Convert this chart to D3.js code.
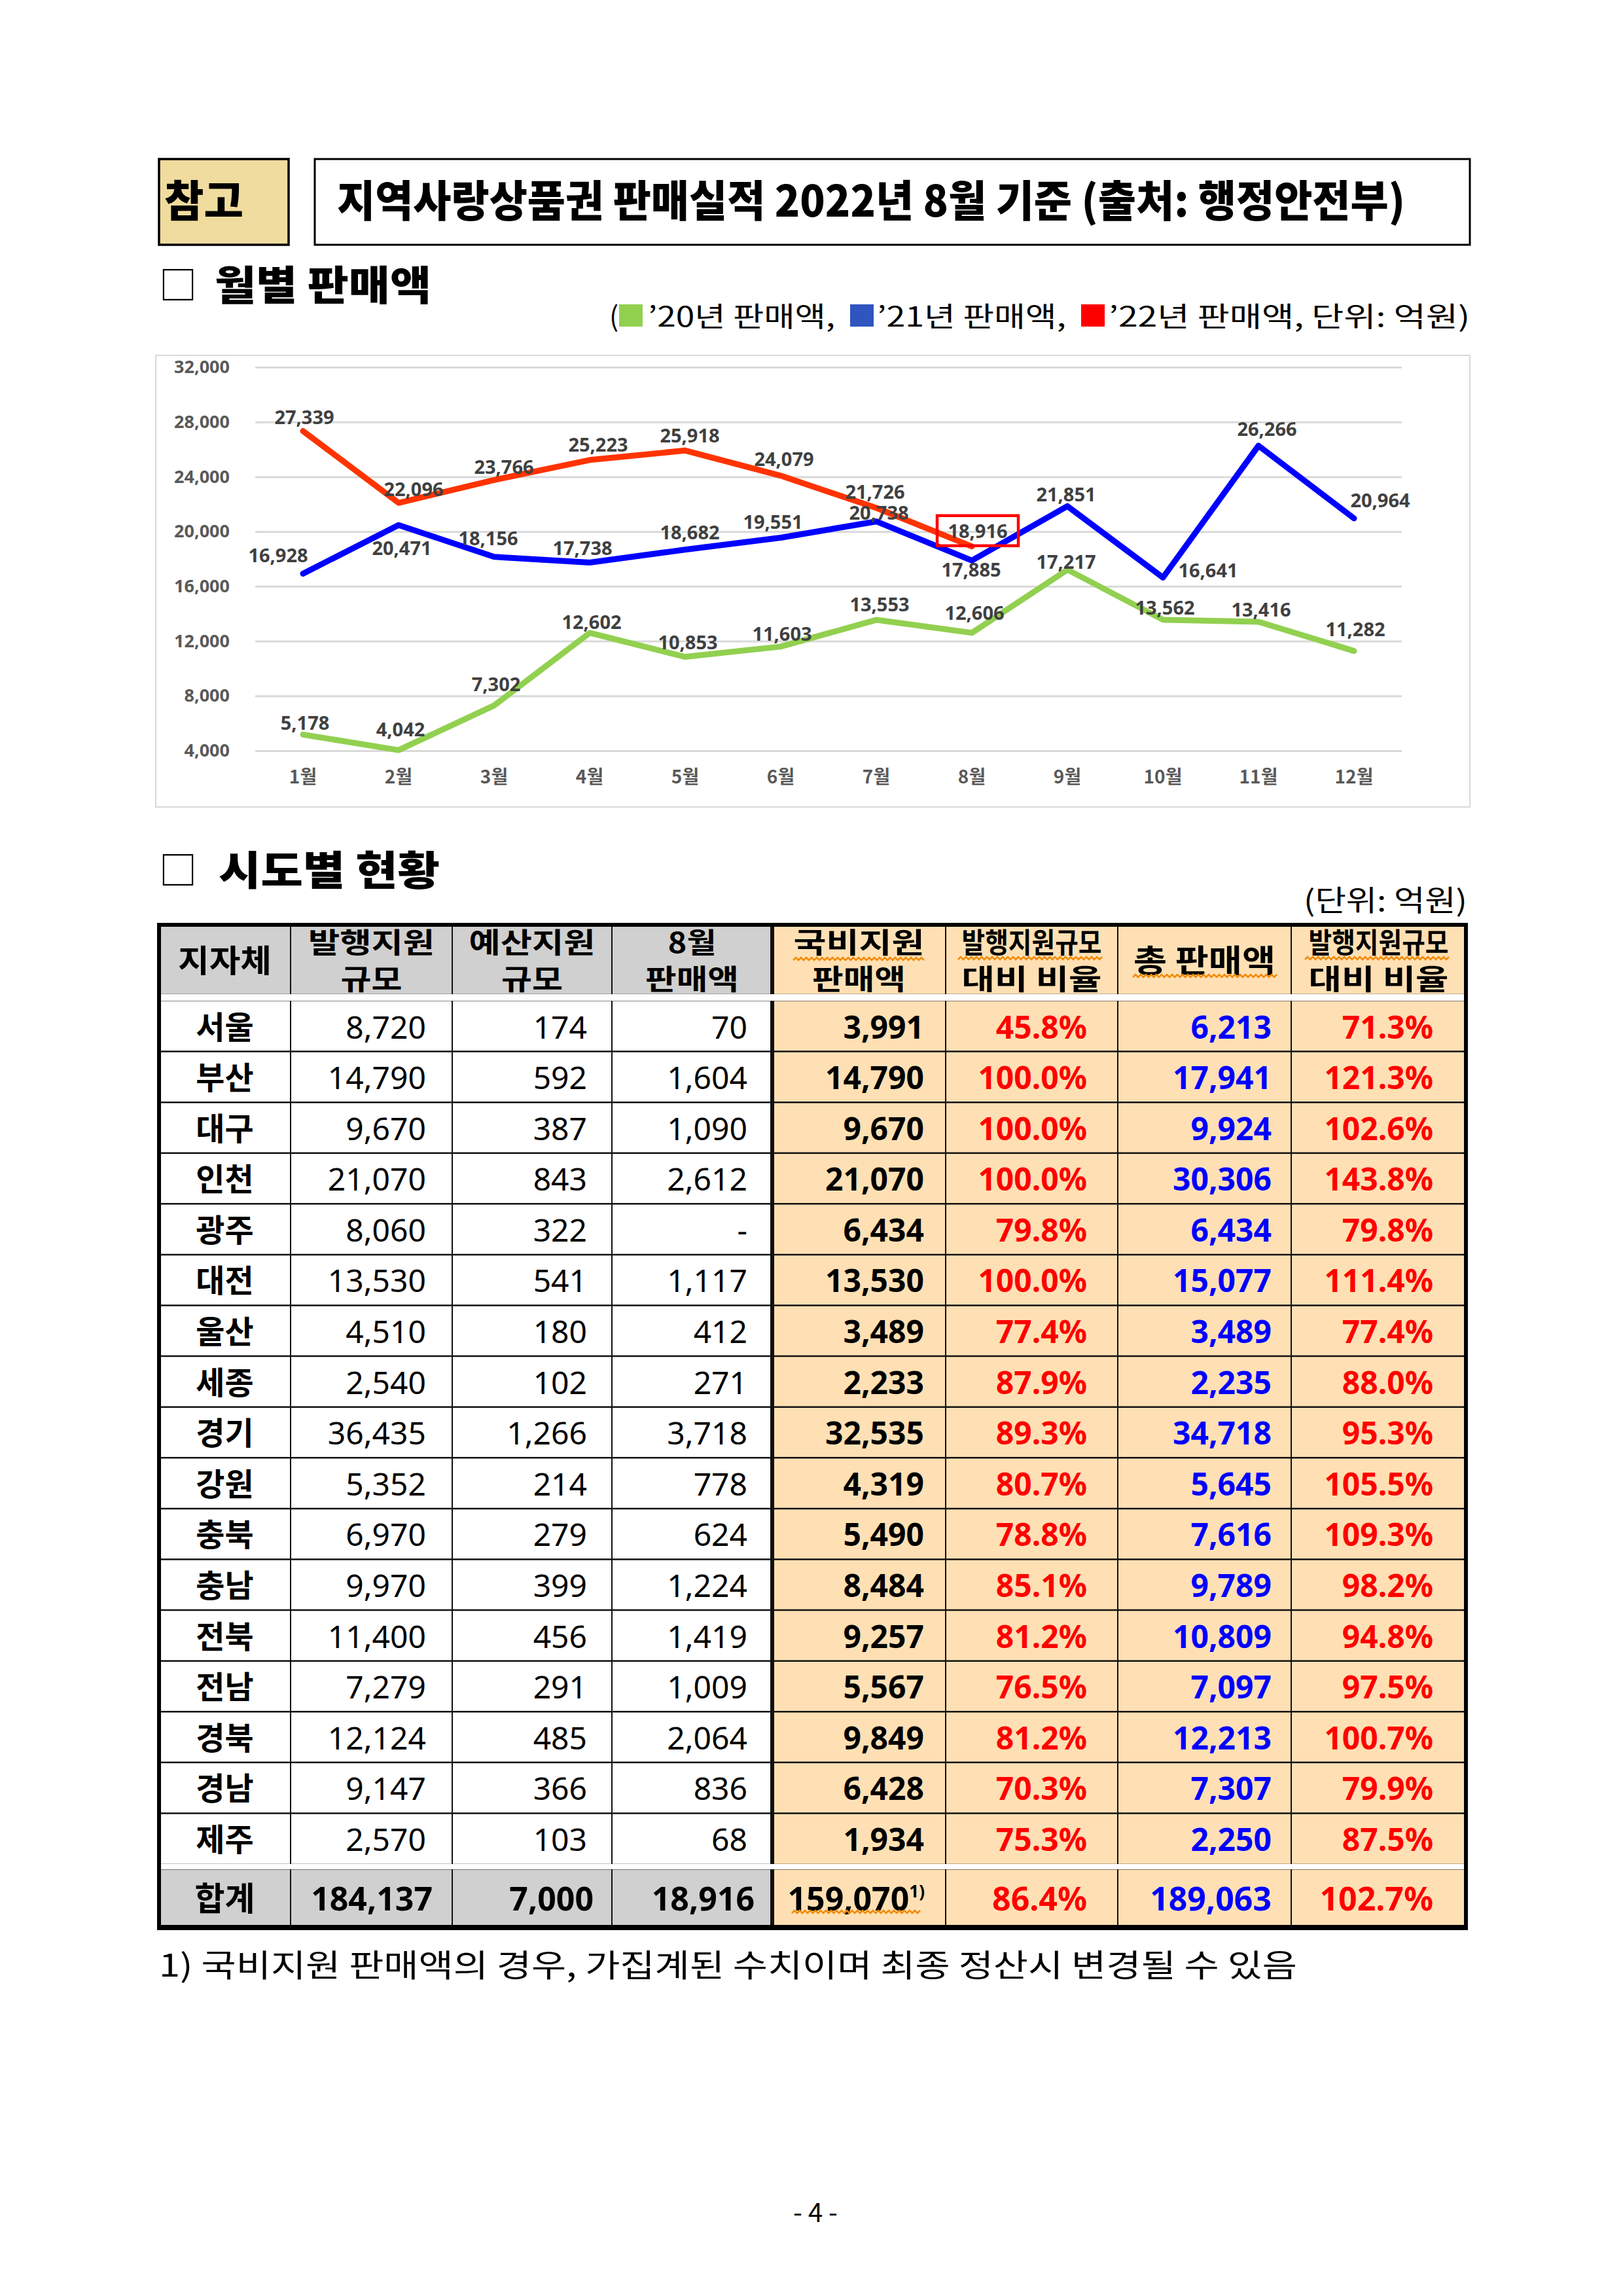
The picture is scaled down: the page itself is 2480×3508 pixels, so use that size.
<!DOCTYPE html>
<html><head><meta charset="utf-8">
<script src="https://cdn.jsdelivr.net/npm/d3@7"></script>
<style>body{margin:0;background:#fff}</style>
</head><body><svg id="page" width="2480" height="3508" xmlns="http://www.w3.org/2000/svg"></svg>
<script>
// ---------------- DATA ----------------
const months = ["1월","2월","3월","4월","5월","6월","7월","8월","9월","10월","11월","12월"];
const sales2020 = [5178,4042,7302,12602,10853,11603,13553,12606,17217,13562,13416,11282];
const sales2021 = [16928,20471,18156,17738,18682,19551,20738,17885,21851,16641,26266,20964];
const sales2022 = [27339,22096,23766,25223,25918,24079,21726,18916];
const yTicks = [4000,8000,12000,16000,20000,24000,28000,32000];
const seriesNames = ["’20년 판매액,","’21년 판매액,","’22년 판매액, 단위: 억원)"];

const regions = ["서울","부산","대구","인천","광주","대전","울산","세종","경기","강원","충북","충남","전북","전남","경북","경남","제주"];
const issueScale = [8720,14790,9670,21070,8060,13530,4510,2540,36435,5352,6970,9970,11400,7279,12124,9147,2570];
const budgetScale = [174,592,387,843,322,541,180,102,1266,214,279,399,456,291,485,366,103];
const augSales = [70,1604,1090,2612,null,1117,412,271,3718,778,624,1224,1419,1009,2064,836,68];
const nationalSales = [3991,14790,9670,21070,6434,13530,3489,2233,32535,4319,5490,8484,9257,5567,9849,6428,1934];
const nationalRatio = [45.8,100.0,100.0,100.0,79.8,100.0,77.4,87.9,89.3,80.7,78.8,85.1,81.2,76.5,81.2,70.3,75.3];
const totalSales = [6213,17941,9924,30306,6434,15077,3489,2235,34718,5645,7616,9789,10809,7097,12213,7307,2250];
const totalRatio = [71.3,121.3,102.6,143.8,79.8,111.4,77.4,88.0,95.3,105.5,109.3,98.2,94.8,97.5,100.7,79.9,87.5];
const totalLabel = "합계";
const totals = [184137,7000,18916,159070,86.4,189063,102.7];
const headers = [["지자체"],["발행지원","규모"],["예산지원","규모"],["8월","판매액"],["국비지원","판매액"],["발행지원규모","대비 비율"],["총 판매액"],["발행지원규모","대비 비율"]];

// label placement offsets (label centre relative to point), pixels
const off2020 = [[3,-18],[3,-32],[3,-33],[3,-17],[4,-22],[2,-20],[5,-24],[4,-31],[-2,-12],[3,-19],[4,-19],[2,-33]];
const off2021 = [[-38,-28],[5,35],[-9,-28],[-11,-22],[7,-26],[-12,-24],[4,-13],[-1,14],[-2,-18],[69,-11],[13,-26],[40,-28]];
const off2022 = [[2,-21],[23,-21],[15,-20],[13,-24],[7,-23],[5,-26],[-2,-25],[9,-24]];

// ---------------- HELPERS ----------------
const svg = d3.select("#page");
const KR = "'Noto Sans CJK KR','Noto Sans',sans-serif";
const LAT = "'Noto Sans','Noto Sans CJK KR',sans-serif";
const fmt = d3.format(",");
const pct = d => d3.format(".1f")(d) + "%";
function txt(g, x, cy, s, o) {
  o = o || {};
  const fs = o.fs || 40;
  const t = g.append("text").attr("x", x).attr("y", cy + 0.37 * fs)
    .attr("font-family", o.family || KR).attr("font-size", fs)
    .attr("font-weight", o.fw || 400).attr("fill", o.fill || "#000")
    .attr("text-anchor", o.anchor || "start").text(s);
  if (o.len) t.attr("textLength", o.len).attr("lengthAdjust", "spacingAndGlyphs");
  return t;
}
function squiggle(g, x0, x1, y) {
  let d = "M" + x0 + "," + (y + 2);
  for (let x = x0, k = 0; x < x1; x += 4, k++) d += "L" + (x + 4) + "," + (y + (k % 2 ? 2 : -2));
  g.append("path").attr("d", d).attr("fill", "none").attr("stroke", "#F28A00").attr("stroke-width", 2.5);
}

// ---------------- PAGE HEADER ----------------
const head = svg.append("g");
head.append("rect").attr("x", 243).attr("y", 243).attr("width", 198).attr("height", 131)
  .attr("fill", "#F0DC9E").attr("stroke", "#000").attr("stroke-width", 3.5);
head.append("rect").attr("x", 481).attr("y", 243).attr("width", 1765).attr("height", 131)
  .attr("fill", "#fff").attr("stroke", "#000").attr("stroke-width", 3);
txt(head, 251, 307, "참고", {fs: 66, fw: 900, len: 121});
txt(head, 515, 307, "지역사랑상품권 판매실적 2022년 8월 기준 (출처: 행정안전부)", {fs: 66, fw: 900, len: 1632});

txt(head, 243, 436, "□", {fs: 58, fw: 400});
txt(head, 328, 436, "월별 판매액", {fs: 62, fw: 900, len: 331});

// legend
const legColors = ["#92D050", "#2F55BE", "#FF0000"];
const legRectX = [946, 1299, 1652];
const legTextX = [990, 1340, 1694];
const legTextLen = [286, 289, 552];
txt(head, 931, 483, "(", {fs: 42});
seriesNames.forEach((s, i) => {
  head.append("rect").attr("x", legRectX[i]).attr("y", 465).attr("width", 36).attr("height", 34).attr("fill", legColors[i]);
  txt(head, legTextX[i], 483, s, {fs: 42, len: legTextLen[i]});
});

// ---------------- CHART ----------------
const chart = svg.append("g");
chart.append("rect").attr("x", 238).attr("y", 543).attr("width", 2008).attr("height", 690)
  .attr("fill", "#fff").attr("stroke", "#D9D9D9").attr("stroke-width", 2);

const x = d3.scaleBand().domain(months).range([390, 2142]);
const cx = m => x(m) + x.bandwidth() / 2;
const y = d3.scaleLinear().domain([4000, 32000]).range([1147, 561]);

const yAxis = chart.append("g").attr("transform", "translate(390,0)")
  .call(d3.axisLeft(y).tickValues(yTicks).tickFormat(fmt).tickSize(-(2142 - 390)).tickPadding(39));
yAxis.select(".domain").remove();
yAxis.selectAll(".tick line").attr("stroke", "#D9D9D9").attr("stroke-width", 3);
yAxis.selectAll(".tick text").attr("font-family", LAT).attr("font-size", 27).attr("font-weight", 700).attr("fill", "#595959");

const xAxis = chart.append("g").attr("transform", "translate(0,1147)")
  .call(d3.axisBottom(x).tickSize(0));
xAxis.select(".domain").remove();
xAxis.selectAll(".tick text").attr("font-family", KR).attr("font-size", 28).attr("font-weight", 700)
  .attr("fill", "#595959").attr("dy", null).attr("y", 40 + 0.37 * 28);

const series = [
  {vals: sales2020, color: "#92D050", off: off2020},
  {vals: sales2021, color: "#0000FF", off: off2021},
  {vals: sales2022, color: "#FF3300", off: off2022}
];
const line = d3.line().x(d => cx(d.m)).y(d => y(d.v));
series.forEach(s => {
  const pts = s.vals.map((v, i) => ({m: months[i], v}));
  chart.append("path").datum(pts).attr("d", line).attr("fill", "none")
    .attr("stroke", s.color).attr("stroke-width", 9).attr("stroke-linejoin", "round").attr("stroke-linecap", "round");
});
series.forEach(s => {
  s.vals.forEach((v, i) => {
    const lx = cx(months[i]) + s.off[i][0], ly = y(v) + s.off[i][1];
    txt(chart, lx, ly, fmt(v), {fs: 29, fw: 700, fill: "#404040", anchor: "middle", family: LAT});
  });
});
// highlight box around latest 2022 value
{
  const i = sales2022.length - 1;
  const lx = cx(months[i]) + off2022[i][0], ly = y(sales2022[i]) + off2022[i][1];
  chart.append("rect").attr("x", lx - 62).attr("y", ly - 23).attr("width", 124).attr("height", 46)
    .attr("fill", "none").attr("stroke", "#FF0000").attr("stroke-width", 4.5);
}

// ---------------- TABLE ----------------
const tb = svg.append("g");
txt(tb, 243, 1330, "□", {fs: 58});
txt(tb, 334, 1330, "시도별 현황", {fs: 62, fw: 900, len: 338});
txt(tb, 2242, 1376, "(단위: 억원)", {fs: 44, anchor: "end", len: 250});

const colEdges = [243, 444, 691, 935, 1180, 1445, 1708, 1973, 2240];
const padR = [0, 40, 38, 38, 33, 47, 30, 50];
const tTop = 1413, hBot = 1519, rTop = 1529, rBot = 2848, totTop = 2856, tBot = 2944;
const yRow = d3.scaleBand().domain(regions).range([rTop, rBot]);
const GRAY = "#D0D0D0", PEACH = "#FFE0B4";

// fills
for (let c = 0; c < 8; c++) {
  const w = colEdges[c + 1] - colEdges[c];
  tb.append("rect").attr("x", colEdges[c]).attr("y", tTop).attr("width", w).attr("height", hBot - tTop).attr("fill", c < 4 ? GRAY : PEACH);
  tb.append("rect").attr("x", colEdges[c]).attr("y", rTop).attr("width", w).attr("height", rBot - rTop).attr("fill", c < 4 ? "#fff" : PEACH);
  tb.append("rect").attr("x", colEdges[c]).attr("y", totTop).attr("width", w).attr("height", tBot - totTop).attr("fill", c < 4 ? GRAY : PEACH);
}

// header texts
const hdrLen = [[143], [193, 94], [193, 94], [74, 143], [200, 143], [214, 214], [217], [214, 214]];
headers.forEach((h, c) => {
  const mid = (colEdges[c] + colEdges[c + 1]) / 2;
  if (h.length === 1) {
    txt(tb, mid, 1467, h[0], {fs: 48, fw: 700, anchor: "middle", len: hdrLen[c][0]});
  } else {
    txt(tb, mid, 1440, h[0], {fs: 43, fw: 700, anchor: "middle", len: hdrLen[c][0]});
    txt(tb, mid, 1496, h[1], {fs: 43, fw: 700, anchor: "middle", len: hdrLen[c][1]});
  }
});
squiggle(tb, 1212, 1412, 1465);
squiggle(tb, 1464, 1682, 1464);
squiggle(tb, 1731, 1948, 1491);
squiggle(tb, 1994, 2212, 1464);

// body rows
const rowCells = regions.map((r, i) => [
  r, fmt(issueScale[i]), fmt(budgetScale[i]), augSales[i] == null ? "-" : fmt(augSales[i]),
  fmt(nationalSales[i]), pct(nationalRatio[i]), fmt(totalSales[i]), pct(totalRatio[i])
]);
const cellStyle = [
  {fw: 700, fill: "#000"}, {fw: 400, fill: "#000"}, {fw: 400, fill: "#000"}, {fw: 400, fill: "#000"},
  {fw: 700, fill: "#000"}, {fw: 700, fill: "#FF0000"}, {fw: 700, fill: "#0000FF"}, {fw: 700, fill: "#FF0000"}
];
rowCells.forEach((cells, i) => {
  const cy = yRow(regions[i]) + yRow.bandwidth() / 2 + 1;
  cells.forEach((s, c) => {
    if (c === 0) {
      txt(tb, (colEdges[0] + colEdges[1]) / 2, cy, s, {fs: 48, fw: 700, anchor: "middle"});
    } else {
      txt(tb, colEdges[c + 1] - padR[c], cy, s, {fs: 48, fw: cellStyle[c].fw, fill: cellStyle[c].fill, anchor: "end", family: LAT});
    }
  });
});

// total row
{
  const cy = (totTop + tBot) / 2;
  txt(tb, (colEdges[0] + colEdges[1]) / 2, cy, totalLabel, {fs: 50, fw: 700, anchor: "middle"});
  const tCells = [fmt(totals[0]), fmt(totals[1]), fmt(totals[2]), fmt(totals[3]), pct(totals[4]), fmt(totals[5]), pct(totals[6])];
  const tPad = [30, 28, 27, 32, 47, 30, 50];
  tCells.forEach((s, k) => {
    const c = k + 1;
    const t = txt(tb, colEdges[c + 1] - tPad[k], cy, s, {fs: 50, fw: 700, fill: cellStyle[c].fill, anchor: "end", family: LAT});
    if (c === 4) {
      t.text(null);
      t.append("tspan").text(s);
      t.append("tspan").attr("font-size", 26).attr("dy", -20).text("1)");
    }
  });
  squiggle(tb, 1210, 1406, 2921);
}

// grid lines
const gl = tb.append("g").attr("stroke", "#111");
regions.slice(1).forEach(r => {
  gl.append("line").attr("x1", 243).attr("x2", 2240).attr("y1", yRow(r)).attr("y2", yRow(r)).attr("stroke-width", 2.5);
});
// double lines
[[1519, 1529], [2848, 2856]].forEach(([a, b]) => {
  tb.append("rect").attr("x", 243).attr("y", a).attr("width", 1997).attr("height", b - a).attr("fill", "#fff");
  gl.append("line").attr("x1", 243).attr("x2", 2240).attr("y1", a + 1).attr("y2", a + 1).attr("stroke-width", 2.5);
  gl.append("line").attr("x1", 243).attr("x2", 2240).attr("y1", b - 1).attr("y2", b - 1).attr("stroke-width", 3);
});
colEdges.slice(1, -1).forEach((xe, k) => {
  gl.append("line").attr("x1", xe).attr("x2", xe).attr("y1", tTop).attr("y2", tBot)
    .attr("stroke-width", xe === 1180 ? 6 : 2);
});
tb.append("rect").attr("x", 243).attr("y", tTop).attr("width", 1997).attr("height", tBot - tTop)
  .attr("fill", "none").attr("stroke", "#000").attr("stroke-width", 6);
tb.append("line").attr("x1", 240).attr("x2", 2243).attr("y1", tBot + 1).attr("y2", tBot + 1).attr("stroke", "#000").attr("stroke-width", 8);

// footnote and page number
txt(svg, 243, 3002, "1) 국비지원 판매액의 경우, 가집계된 수치이며 최종 정산시 변경될 수 있음", {fs: 48, len: 1739});
txt(svg, 1246, 3380, "- 4 -", {fs: 40, anchor: "middle"});
</script>
</body></html>
